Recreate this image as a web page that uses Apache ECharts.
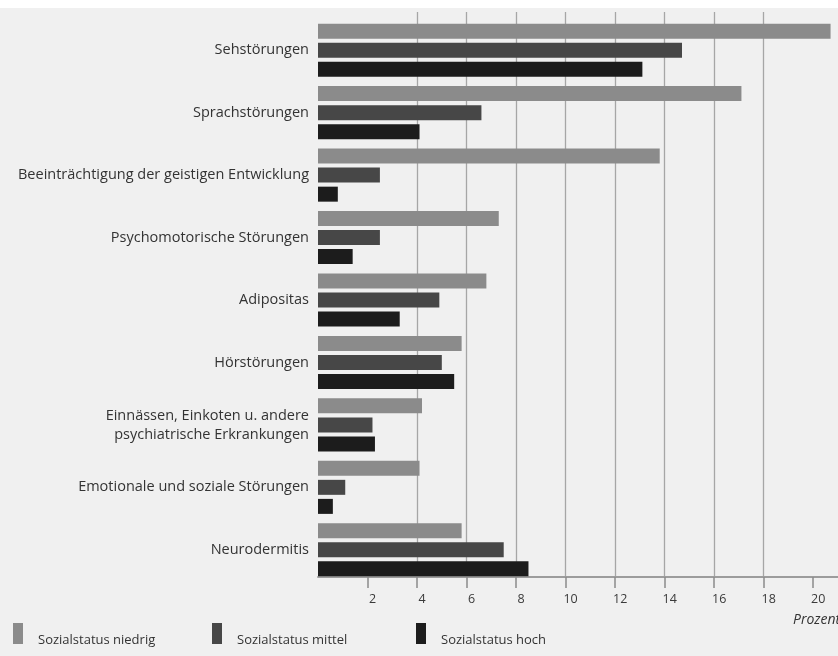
<!DOCTYPE html>
<html>
<head>
<meta charset="utf-8">
<script src="https://cdn.jsdelivr.net/npm/echarts@6.0.0/dist/echarts.min.js"></script>
<style>
  html, body { margin: 0; padding: 0; background: #f0f0f0; }
  #chart { width: 838px; height: 656px; }
</style>
</head>
<body>
<div id="chart"></div>
<script>
// Gesundheitsstörungen bei Schulanfängern nach Sozialstatus (Prozent)
const categories = [
  'Sehstörungen',
  'Sprachstörungen',
  'Beeinträchtigung der geistigen Entwicklung',
  'Psychomotorische Störungen',
  'Adipositas',
  'Hörstörungen',
  'Einnässen, Einkoten u. andere\npsychiatrische Erkrankungen',
  'Emotionale und soziale Störungen',
  'Neurodermitis'
];
const seriesNames = ['Sozialstatus niedrig', 'Sozialstatus mittel', 'Sozialstatus hoch'];
const niedrig = [20.7, 17.1, 13.8, 7.3, 6.8, 5.8, 4.2, 4.1, 5.8];
const mittel  = [14.7, 6.6, 2.5, 2.5, 4.9, 5.0, 2.2, 1.1, 7.5];
const hoch    = [13.1, 4.1, 0.8, 1.4, 3.3, 5.5, 2.3, 0.6, 8.5];
const tickValues = [2, 4, 6, 8, 10, 12, 14, 16, 18, 20];
const axisUnit = 'Prozent';

const chart = echarts.init(document.getElementById('chart'), null, { renderer: 'canvas' });

const font = '"Open Sans", "DejaVu Sans", sans-serif';
const seriesValues = [niedrig, mittel, hoch];
const seriesColors = ['#8b8b8b', '#474747', '#1c1c1c'];
// one legend block per series, laid out in a row at the bottom
const legendLeft = [13, 212, 416];

chart.setOption({
  backgroundColor: '#f0f0f0',
  animation: false,
  textStyle: { fontFamily: font },
  graphic: [
    { type: 'rect', left: 0, top: 0, shape: { width: 838, height: 8 }, style: { fill: '#ffffff' }, silent: true },
    { type: 'text', left: 793, top: 613, style: { text: axisUnit, font: 'italic 14px ' + font, fill: '#333' } }
  ],
  grid: [
    // frame: grid lines and the value axis
    { left: 318, right: 0, top: 12, bottom: 79 },
    // bars
    { left: 318, right: 0, top: 19, bottom: 75 }
  ],
  xAxis: [
    {
      gridIndex: 0, type: 'value', min: 0, max: 21, interval: 2,
      splitLine: { show: true, showMinLine: false, showMaxLine: false, lineStyle: { color: '#a6a6a6', width: 1.3 } },
      axisLine: { show: true, lineStyle: { color: '#9c9c9c', width: 2 } },
      axisTick: { show: true, customValues: tickValues, length: 11, lineStyle: { color: '#8a8a8a', width: 1.5 } },
      axisLabel: { customValues: tickValues, margin: 16, color: '#3a3a3a', fontSize: 12.5, padding: [0, 0, 0, 10] }
    },
    { gridIndex: 1, type: 'value', min: 0, max: 21, show: false }
  ],
  yAxis: [
    { gridIndex: 0, type: 'category', data: categories, inverse: true, show: false },
    {
      gridIndex: 1, type: 'category', data: categories, inverse: true,
      axisLine: { show: false }, axisTick: { show: false },
      axisLabel: { margin: 9, color: '#333', fontSize: 14.5, lineHeight: 19, align: 'right' }
    }
  ],
  legend: seriesNames.map((name, i) => ({
    data: [name], left: legendLeft[i], top: 623, padding: 0, icon: 'rect',
    itemWidth: 10, itemHeight: 21,
    formatter: n => '{t|' + n + '}',
    textStyle: {
      fontSize: 13, color: '#333', padding: [0, 0, 0, 10],
      rich: { t: { fontSize: 13, color: '#333', lineHeight: 27, verticalAlign: 'bottom' } }
    }
  })),
  series: seriesNames.map((name, i) => ({
    name, type: 'bar', xAxisIndex: 1, yAxisIndex: 1,
    data: seriesValues[i], barWidth: 15, barGap: '27%',
    itemStyle: { color: seriesColors[i] }
  }))
});
</script>
</body>
</html>
